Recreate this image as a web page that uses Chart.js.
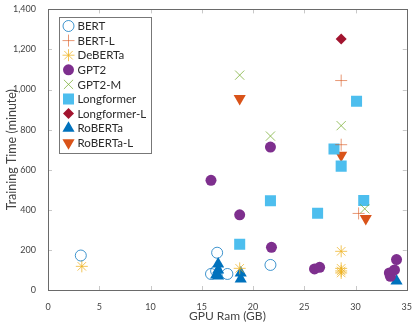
<!DOCTYPE html>
<html>
<head>
<meta charset="utf-8">
<script src="https://cdn.jsdelivr.net/npm/chart.js@4"></script>
<style>
  html, body { margin: 0; padding: 0; background: #fff; }
  #wrap { width: 416px; height: 327px; }
</style>
</head>
<body>
<div id="wrap"><canvas id="chart"></canvas></div>
<script>
// valores
const xTicks = [0, 5, 10, 15, 20, 25, 30, 35];
const yTicks = [0, 200, 400, 600, 800, 1000, 1200, 1400];

const bertX = [3.2, 16.5, 15.9, 17.5, 16.4, 21.7];
const bertY = [172, 186, 80, 80, 95, 125];
const bertLX = [28.6, 28.6, 30.3];
const bertLY = [1045, 725, 382];
const debertaX = [3.3, 18.7, 28.6, 28.6, 28.6, 28.6];
const debertaY = [118, 108, 193, 108, 95, 85];
const gpt2X = [15.9, 18.7, 21.8, 21.7, 26.0, 26.5, 33.3, 33.4, 33.8, 34.0];
const gpt2Y = [547, 375, 213, 713, 105, 113, 85, 68, 100, 152];
const gpt2mX = [18.7, 21.7, 28.6, 30.9];
const gpt2mY = [1072, 768, 820, 405];
const longX = [18.7, 21.7, 26.3, 30.8, 28.6, 27.9, 30.1];
const longY = [228, 445, 383, 447, 618, 703, 942];
const longLX = [28.6];
const longLY = [1252];
const robertaX = [16.6, 16.6, 16.6, 16.4, 18.8, 18.8, 34.0];
const robertaY = [130, 100, 70, 75, 85, 55, 45];
const robertaLX = [18.7, 28.6, 31.0];
const robertaLY = [955, 672, 357];

function pts(xs, ys) {
    return xs.map((x, i) => ({ x: x, y: ys[i] }));
}

function serie(label, xs, ys, style, color, fill, radius, rot) {
    return {
        label: label,
        data: pts(xs, ys),
        pointStyle: style,
        pointRadius: radius,
        pointRotation: rot || 0,
        borderColor: color,
        backgroundColor: fill ? color : 'rgba(0,0,0,0)',
        borderWidth: fill ? 0 : 1,
        showLine: false
    };
}

const datasets = [
    serie('BERT', bertX, bertY, 'circle', 'rgba(0,114,189,0.75)', false, 5.5),
    serie('BERT-L', bertLX, bertLY, 'cross', 'rgba(217,83,25,0.6)', false, 6),
    serie('DeBERTa', debertaX, debertaY, 'star', 'rgba(237,177,32,0.75)', false, 6),
    serie('GPT2', gpt2X, gpt2Y, 'circle', '#7E2F8E', true, 5.5),
    serie('GPT2-M', gpt2mX, gpt2mY, 'crossRot', 'rgba(119,172,48,0.75)', false, 6.5),
    serie('Longformer', longX, longY, 'rect', '#4DBEEE', true, 7.8),
    serie('Longformer-L', longLX, longLY, 'rectRot', '#A2142F', true, 5.5),
    serie('RoBERTa', robertaX, robertaY, 'triangle', '#0072BD', true, 7),
    serie('RoBERTa-L', robertaLX, robertaLY, 'triangle', '#D95319', true, 7, 180)
];

// marco con marcas hacia dentro
const marco = {
    id: 'marco',
    afterDatasetsDraw(chart) {
        const ctx = chart.ctx;
        const a = chart.chartArea;
        const sx = chart.scales.x, sy = chart.scales.y;
        ctx.save();
        ctx.strokeStyle = '#c8c8c8';
        ctx.lineWidth = 1;
        ctx.beginPath();
        xTicks.forEach(v => {
            const p = Math.round(sx.getPixelForValue(v)) + 0.5;
            ctx.moveTo(p, a.bottom); ctx.lineTo(p, a.bottom - 4);
            ctx.moveTo(p, a.top); ctx.lineTo(p, a.top + 4);
        });
        yTicks.forEach(v => {
            const p = Math.round(sy.getPixelForValue(v)) + 0.5;
            ctx.moveTo(a.left, p); ctx.lineTo(a.left + 4, p);
            ctx.moveTo(a.right, p); ctx.lineTo(a.right - 4, p);
        });
        ctx.stroke();
        ctx.strokeStyle = '#6a6a6a';
        ctx.strokeRect(Math.round(a.left) + 0.5, Math.round(a.top) + 0.5,
            Math.round(a.right - a.left), Math.round(a.bottom - a.top));
        ctx.restore();
    }
};

// leyenda dentro del área
const leyenda = {
    id: 'leyenda',
    afterDraw(chart) {
        const ctx = chart.ctx;
        const a = chart.chartArea;
        const left = Math.round(a.left) + 11.5, top = Math.round(a.top) + 8.5;
        const w = 92, rowH = 14.6, h = 136;
        ctx.save();
        ctx.fillStyle = '#fff';
        ctx.fillRect(left, top, w, h);
        ctx.strokeStyle = '#777';
        ctx.lineWidth = 1;
        ctx.strokeRect(left, top, w, h);
        ctx.font = '11.5px Lato, "Open Sans", sans-serif';
        ctx.textBaseline = 'middle';
        chart.data.datasets.forEach((ds, i) => {
            const cy = top + 8.5 + i * rowH;
            ctx.fillStyle = ds.backgroundColor;
            ctx.strokeStyle = ds.borderColor;
            ctx.lineWidth = ds.borderWidth || 0;
            Chart.helpers.drawPoint(ctx, {
                pointStyle: ds.pointStyle,
                radius: ds.pointRadius,
                rotation: ds.pointRotation,
                borderWidth: ds.borderWidth
            }, left + 9, cy);
            ctx.fillStyle = '#2a2a2a';
            ctx.fillText(ds.label, left + 18, cy + 0.5);
        });
        ctx.restore();
    }
};

new Chart(document.getElementById('chart'), {
    type: 'scatter',
    data: { datasets: datasets },
    options: {
        responsive: true,
        maintainAspectRatio: false,
        animation: false,
        layout: { padding: { top: 9, right: 9, left: 0, bottom: 0 } },
        plugins: {
            legend: { display: false },
            tooltip: { enabled: false }
        },
        scales: {
            x: {
                min: 0, max: 35,
                afterBuildTicks: s => { s.ticks = xTicks.map(v => ({ value: v })); },
                afterFit: s => { s.height = 37; },
                grid: { display: false },
                border: { display: false },
                ticks: { color: '#444', font: { size: 9, family: 'Lato, sans-serif' }, padding: 4, maxRotation: 0 },
                title: { display: true, text: 'GPU Ram (GB)', color: '#444', font: { size: 12, family: 'Lato, sans-serif' }, padding: { top: 2 } }
            },
            y: {
                min: 0, max: 1400,
                afterBuildTicks: s => { s.ticks = yTicks.map(v => ({ value: v })); },
                afterFit: s => { s.width = 48; },
                grid: { display: false },
                border: { display: false },
                ticks: { color: '#444', font: { size: 9, family: 'Lato, sans-serif' }, padding: 4 },
                title: { display: true, text: 'Training Time (minute)', color: '#444', font: { size: 12.5, family: 'Lato, sans-serif' }, padding: { bottom: 2 } }
            }
        }
    },
    plugins: [marco, leyenda]
});
</script>
</body>
</html>
